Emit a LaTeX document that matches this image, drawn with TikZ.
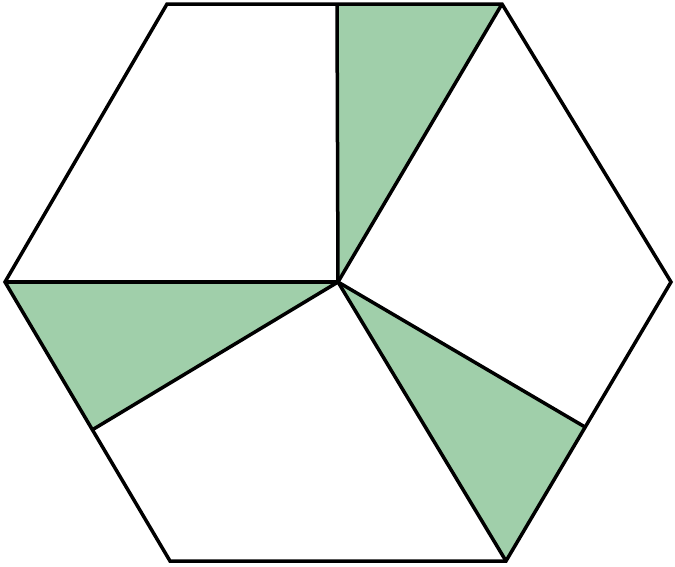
\documentclass[tikz,border=0pt]{standalone}
\begin{document}
\begin{tikzpicture}[x=1pt,y=-1pt,
  edge/.style={draw=black,line width=3.5pt,line join=miter},
  fillg/.style={fill=gfill}]
\definecolor{gfill}{HTML}{A0CFAA}
\useasboundingbox (0,0) rectangle (675,566);
\coordinate (A) at (167,4);
\coordinate (B) at (502,4);
\coordinate (C) at (671,282);
\coordinate (D) at (506,561);
\coordinate (E) at (170,561);
\coordinate (F) at (5,282);
\coordinate (O) at (338,282);
\coordinate (T) at (337,4);
\coordinate (R) at (585,427);
\coordinate (L) at (92,430);
\fill[fillg] (T) -- (B) -- (O) -- cycle;
\fill[fillg] (O) -- (R) -- (D) -- cycle;
\fill[fillg] (O) -- (F) -- (L) -- cycle;
\draw[edge] (A) -- (B) -- (C) -- (D) -- (E) -- (F) -- cycle;
\draw[edge] (T) -- (O);
\draw[edge] (B) -- (O);
\draw[edge] (R) -- (O);
\draw[edge] (D) -- (O);
\draw[edge] (L) -- (O);
\draw[edge] (F) -- (O);
\end{tikzpicture}
\end{document}
